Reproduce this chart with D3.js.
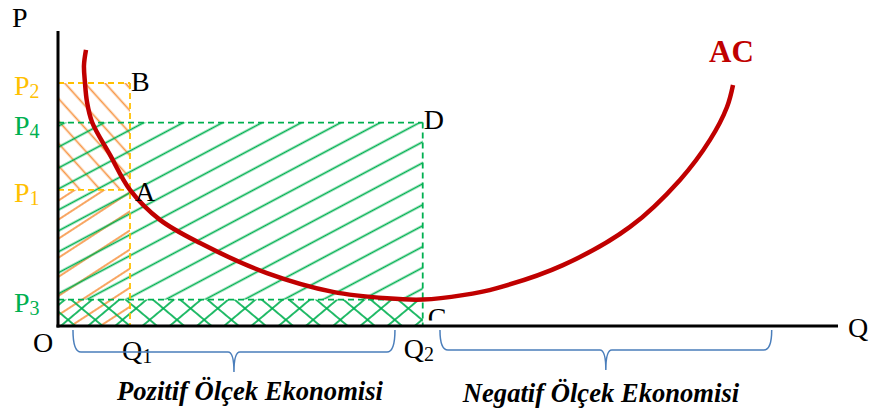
<!DOCTYPE html>
<html><head><meta charset="utf-8">
<script src="https://cdn.jsdelivr.net/npm/d3@7"></script>
<style>
body{margin:0;background:#fff}
svg{display:block}
</style>
</head><body>
<svg id="c" width="869" height="415"></svg>
<script>
// ---- data ----
const priceLabels = ["P2", "P4", "P1", "P3"];
const priceValues = [82.65, 69.2, 46.3, 9.0];
const quantityLabels = ["Q1", "Q2"];
const quantityValues = [9.23, 46.76];
const acQ = [3.59, 3.33, 3.46, 3.72, 4.36, 6.67, 9.23, 13.08, 18.21, 26.79, 35.26, 42.18, 46.79, 51.9, 56.28, 64.74, 73.33, 79.74, 83.59, 85.77, 86.54];
const acP = [93.9, 88.6, 82.7, 76.2, 69.4, 58.2, 46.3, 36.1, 28.2, 18.0, 11.6, 9.4, 9.0, 10.5, 12.9, 20.7, 33.7, 49.7, 63.3, 74.5, 82.0];
const curveLabel = "AC";
const pointLabels = ["A", "B", "C", "D"];
const regionLabels = ["Pozitif Ölçek Ekonomisi", "Negatif Ölçek Ekonomisi"];
const regionStart = [1.92, 48.97];
const regionEnd = [43.2, 91.5];

// ---- styles ----
const YEL = "#ffc000", GRN = "#00b050", ORG = "#f79646", RED = "#c00000", BLU = "#4a7ebb";
const SERIF = "'Liberation Serif', 'Times New Roman', Times, serif";

const svg = d3.select("#c");
const x = d3.scaleLinear().domain([0, 100]).range([58, 838]);
const y = d3.scaleLinear().domain([0, 100]).range([326, 32]);

const pv = Object.fromEntries(priceLabels.map((l, i) => [l, priceValues[i]]));
const qv = Object.fromEntries(quantityLabels.map((l, i) => [l, quantityValues[i]]));

const defs = svg.append("defs");
function hatch(id, angle, spacing, color, w) {
  const p = defs.append("pattern").attr("id", id)
    .attr("patternUnits", "userSpaceOnUse")
    .attr("width", spacing).attr("height", spacing)
    .attr("patternTransform", `rotate(${angle})`);
  p.append("line").attr("x1", -1).attr("x2", spacing + 1)
    .attr("y1", spacing / 2).attr("y2", spacing / 2)
    .attr("stroke", color).attr("stroke-width", w);
}
hatch("gDiag", -28, 18.5, GRN, 1.7);
hatch("gBandA", -40, 17.5, GRN, 1.7);
hatch("gBandB", 40, 17.5, GRN, 1.7);
hatch("oUp", 48, 15, ORG, 1.7);
hatch("oLow", -33, 16, ORG, 1.7);

const x0 = x(0), y0 = y(0);
const xQ1 = x(qv.Q1), xQ2 = x(qv.Q2);
// orange regions (rectangle O-P2-B-Q1)
svg.append("rect").attr("x", x0).attr("y", y(pv.P2)).attr("width", xQ1 - x0).attr("height", y(pv.P1) - y(pv.P2)).attr("fill", "url(#oUp)");
svg.append("rect").attr("x", x0).attr("y", y(pv.P1)).attr("width", xQ1 - x0).attr("height", y0 - y(pv.P1)).attr("fill", "url(#oLow)");
// green regions (rectangle O-P4-D-Q2)
svg.append("rect").attr("x", x0).attr("y", y(pv.P4)).attr("width", xQ2 - x0).attr("height", y(pv.P3) - y(pv.P4)).attr("fill", "url(#gDiag)");
svg.append("rect").attr("x", x0).attr("y", y(pv.P3)).attr("width", xQ2 - x0).attr("height", y0 - y(pv.P3)).attr("fill", "url(#gBandA)");
svg.append("rect").attr("x", x0).attr("y", y(pv.P3)).attr("width", xQ2 - x0).attr("height", y0 - y(pv.P3)).attr("fill", "url(#gBandB)");

// dashed guide lines
function dash(xa, ya, xb, yb, color) {
  svg.append("line").attr("x1", xa).attr("y1", ya).attr("x2", xb).attr("y2", yb)
    .attr("stroke", color).attr("stroke-width", 1.8).attr("stroke-dasharray", "6,4");
}
dash(x0, y(pv.P4), xQ2, y(pv.P4), GRN);
dash(x0, y(pv.P3), xQ2, y(pv.P3), GRN);
dash(xQ2, y(pv.P4), xQ2, y0, GRN);
dash(x0, y(pv.P2), xQ1, y(pv.P2), YEL);
dash(x0, y(pv.P1), xQ1, y(pv.P1), YEL);
dash(xQ1, y(pv.P2), xQ1, y0, YEL);

// AC curve
const line = d3.line().x(d => x(d[0])).y(d => y(d[1])).curve(d3.curveCatmullRom.alpha(0.5));
svg.append("path").attr("d", line(acQ.map((q, i) => [q, acP[i]])))
  .attr("fill", "none").attr("stroke", RED).attr("stroke-width", 4.5).attr("stroke-linecap", "butt");

// point label C is clipped just above the axis
defs.append("clipPath").attr("id", "cClip").append("rect").attr("x", 0).attr("y", 0).attr("width", 869).attr("height", 320.5);

// axes
svg.append("line").attr("x1", x0).attr("y1", y(100) - 1).attr("x2", x0).attr("y2", y0 + 1.5).attr("stroke", "#000").attr("stroke-width", 3);
svg.append("line").attr("x1", x0 - 1.5).attr("y1", y0).attr("x2", x(100)).attr("y2", y0).attr("stroke", "#000").attr("stroke-width", 3);

// text helpers
function subText(tx, ty, main, sub, color, size, subSize) {
  const t = svg.append("text").attr("x", tx).attr("y", ty).attr("fill", color)
    .attr("font-family", SERIF).attr("font-size", size);
  t.append("tspan").text(main);
  if (sub) t.append("tspan").attr("font-size", subSize).attr("dy", 3).text(sub);
  return t;
}
subText(12, 27, "P", "", "#000", 28);
subText(848, 337, "Q", "", "#000", 28);
subText(33, 352, "O", "", "#000", 28);

const priceColor = {P2: YEL, P1: YEL, P4: GRN, P3: GRN};
priceLabels.forEach((l, i) => {
  subText(14, y(priceValues[i]) + 12, l[0], l.slice(1), priceColor[l], 28, 20);
});
const qOffsets = [-8, -19], qBase = [360, 358];
quantityLabels.forEach((l, i) => {
  subText(x(quantityValues[i]) + qOffsets[i], qBase[i], l[0], l.slice(1), "#000", 28, 20);
});

// point labels
const ptPos = {
  A: [xQ1 + 5, y(pv.P1) + 11],
  B: [xQ1 + 1, y(pv.P2) + 8],
  C: [xQ2 + 5, y(pv.P3) + 27],
  D: [xQ2 + 1, y(pv.P4) + 6.5]
};
pointLabels.forEach(l => {
  const t = subText(ptPos[l][0], ptPos[l][1], l, "", "#000", 28);
  if (l === "C") t.attr("clip-path", "url(#cClip)");
});

// AC label
svg.append("text").attr("x", x(acQ[acQ.length - 1]) - 24).attr("y", 62)
  .attr("font-family", SERIF)
  .attr("fill", RED).attr("font-size", 31).attr("font-weight", "bold").text(curveLabel);

// braces
const braceTop = [330, 330], braceMid = [352, 350];
regionLabels.forEach((lab, i) => {
  const a = x(regionStart[i]), b = x(regionEnd[i]), m = (a + b) / 2;
  const t = braceTop[i], h = braceMid[i], tip = h + 20;
  const p = `M${a},${t} Q${a},${h} ${a + 8},${h} L${m - 6},${h} Q${m},${h} ${m},${tip} Q${m},${h} ${m + 6},${h} L${b - 8},${h} Q${b},${h} ${b},${t}`;
  svg.append("path").attr("d", p).attr("fill", "none").attr("stroke", BLU).attr("stroke-width", 1.5);
});
const labelX = [250, 601], labelY = [400, 402];
regionLabels.forEach((lab, i) => {
  svg.append("text").attr("x", labelX[i]).attr("y", labelY[i]).attr("text-anchor", "middle")
    .attr("font-family", SERIF)
    .attr("font-size", 26.6).attr("font-weight", "bold").attr("font-style", "italic").attr("fill", "#000").text(lab);
});
</script>
</body></html>
